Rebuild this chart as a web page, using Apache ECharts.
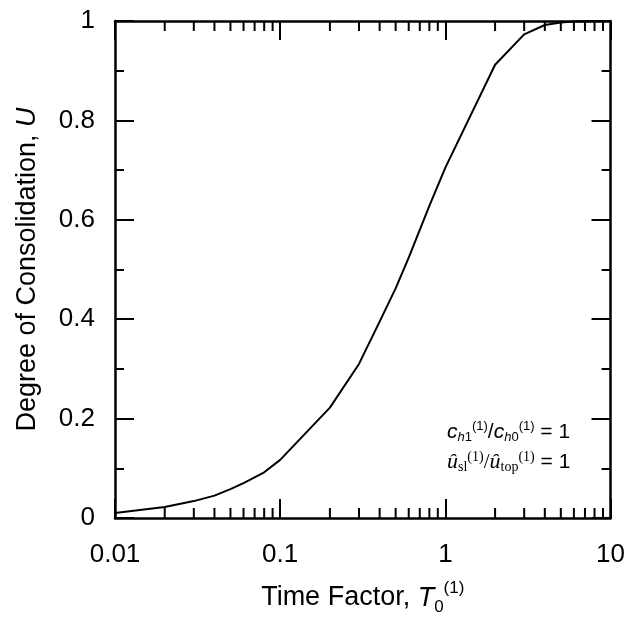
<!DOCTYPE html>
<html>
<head>
<meta charset="utf-8">
<script src="https://cdn.jsdelivr.net/npm/echarts@6/dist/echarts.min.js"></script>
<style>
html,body{margin:0;padding:0;background:#fff;}
#c{width:628px;height:623px;}
</style>
</head>
<body>
<div id="c"></div>
<script>
// Data
var timeFactor = [0.01, 0.02, 0.03, 0.04, 0.05, 0.06, 0.08, 0.1, 0.2, 0.3, 0.4, 0.5, 0.6, 0.8, 1, 2, 3, 4, 5, 6, 8, 10];
var consolidation = [0.010, 0.022, 0.034, 0.045, 0.058, 0.070, 0.092, 0.117, 0.222, 0.310, 0.395, 0.462, 0.524, 0.628, 0.705, 0.912, 0.973, 0.992, 0.997, 0.999, 1.0, 1.0];
var xTickLabels = ['0.01', '0.1', '1', '10'];
var yTickLabels = ['0', '0.2', '0.4', '0.6', '0.8', '1'];
var xMinorTicks = [];
[0.01, 0.1, 1].forEach(function (d) { for (var k = 2; k <= 9; k++) xMinorTicks.push(+(k * d).toPrecision(3)); });

var FONT = '"Liberation Sans", Arial, sans-serif';
var SERIF = '"Liberation Serif", "Times New Roman", serif';
var FS = 26;
var FT = 27;

var chart = echarts.init(document.getElementById('c'), null, {renderer: 'canvas'});

function xLabel(v) {
  var i = Math.round(Math.log10(v)) + 2;
  return xTickLabels[i] !== undefined ? xTickLabels[i] : '';
}
function yLabel(v) {
  var i = Math.round(v / 0.2);
  return yTickLabels[i] !== undefined ? yTickLabels[i] : '';
}

var axisLine = {show: true, onZero: false, lineStyle: {color: '#000', width: 2.5}};
var majorTick = {show: true, inside: true, length: 19, lineStyle: {color: '#000', width: 2}};

var option = {
  animation: false,
  backgroundColor: '#fff',
  grid: {left: 115, right: 16, top: 21, bottom: 105, containLabel: false},
  xAxis: [{
    type: 'log', logBase: 10, min: 0.01, max: 10, position: 'bottom',
    axisLine: axisLine, axisTick: majorTick, splitLine: {show: false},
    axisLabel: {show: true, margin: 24, fontSize: FS, color: '#000', fontFamily: FONT, formatter: xLabel},
    name: '{n|Time Factor, }{i|T}{sub|0}{sup|(1)}',
    nameLocation: 'middle', nameGap: 62,
    nameTextStyle: {
      fontFamily: FONT, fontSize: FT, color: '#000',
      rich: {
        n: {fontFamily: FONT, fontSize: FT, color: '#000', lineHeight: 36, verticalAlign: 'middle'},
        i: {fontFamily: FONT, fontSize: FT, fontStyle: 'italic', color: '#000', lineHeight: 36, verticalAlign: 'middle'},
        sub: {fontFamily: FONT, fontSize: 17, color: '#000', lineHeight: 15, verticalAlign: 'bottom'},
        sup: {fontFamily: FONT, fontSize: 17, color: '#000', lineHeight: 18, verticalAlign: 'top'}
      }
    }
  }, {
    type: 'log', logBase: 10, min: 0.01, max: 10, position: 'top',
    axisLine: axisLine, axisTick: majorTick, splitLine: {show: false},
    axisLabel: {show: false}
  }],
  yAxis: [{
    type: 'value', min: 0, max: 1, interval: 0.2, position: 'left',
    axisLine: axisLine, axisTick: majorTick, splitLine: {show: false},
    minorTick: {show: true, splitNumber: 2, length: 9, lineStyle: {color: '#000', width: 2}},
    axisLabel: {show: true, margin: 20, fontSize: FS, color: '#000', fontFamily: FONT, formatter: yLabel},
    name: '{n|Degree of Consolidation, }{i|U}',
    nameLocation: 'middle', nameGap: 74, nameRotate: 90,
    nameTextStyle: {
      fontFamily: FONT, fontSize: FT, color: '#000',
      rich: {
        n: {fontFamily: FONT, fontSize: FT, color: '#000'},
        i: {fontFamily: FONT, fontSize: FT, fontStyle: 'italic', color: '#000'}
      }
    }
  }, {
    type: 'value', min: 0, max: 1, interval: 0.2, position: 'right',
    axisLine: axisLine, axisTick: majorTick, splitLine: {show: false},
    minorTick: {show: true, splitNumber: 2, length: 9, lineStyle: {color: '#000', width: 2}},
    axisLabel: {show: false}
  }],
  series: [{
    type: 'line',
    xAxisIndex: 0, yAxisIndex: 0,
    data: timeFactor.map(function (t, i) { return [t, consolidation[i]]; }),
    showSymbol: false, symbol: 'none', smooth: false,
    lineStyle: {color: '#000', width: 2},
    silent: true
  }, {
    type: 'custom',
    xAxisIndex: 0, yAxisIndex: 0,
    data: xMinorTicks.map(function (v) { return [v]; }),
    clip: false, silent: true,
    renderItem: function (params, api) {
      var v = api.value(0);
      var pb = api.coord([v, 0]);
      var pt = api.coord([v, 1]);
      var st = {stroke: '#000', lineWidth: 2};
      return {
        type: 'group',
        children: [
          {type: 'line', shape: {x1: pb[0], y1: pb[1], x2: pb[0], y2: pb[1] - 10}, style: st},
          {type: 'line', shape: {x1: pt[0], y1: pt[1], x2: pt[0], y2: pt[1] + 10}, style: st}
        ]
      };
    }
  }],
  graphic: [{
    type: 'text', left: 447, top: 420,
    style: {
      text: '{i|c}{subi|h}{sub|1}{sup|(1)}{n|/}{i|c}{subi|h}{sub|0}{sup|(1)}{n| = 1}',
      rich: {
        n: {fontFamily: FONT, fontSize: 21, fill: '#000', lineHeight: 24, verticalAlign: 'middle'},
        i: {fontFamily: FONT, fontSize: 21, fontStyle: 'italic', fill: '#000', lineHeight: 24, verticalAlign: 'middle'},
        subi: {fontFamily: FONT, fontSize: 13, fontStyle: 'italic', fill: '#000', lineHeight: 11, verticalAlign: 'bottom'},
        sub: {fontFamily: FONT, fontSize: 13, fill: '#000', lineHeight: 11, verticalAlign: 'bottom'},
        sup: {fontFamily: FONT, fontSize: 13, fill: '#000', lineHeight: 13, verticalAlign: 'top'}
      }
    }
  }, {
    type: 'text', left: 447, top: 450,
    style: {
      text: '{i|û}{sub|sl}{sup|(1)}{s|/}{i|û}{sub|top}{sup|(1)}{n| = 1}',
      rich: {
        n: {fontFamily: FONT, fontSize: 21, fill: '#000', lineHeight: 24, verticalAlign: 'middle'},
        s: {fontFamily: SERIF, fontSize: 21, fill: '#000', lineHeight: 24, verticalAlign: 'middle'},
        i: {fontFamily: SERIF, fontSize: 22, fontStyle: 'italic', fill: '#000', lineHeight: 24, verticalAlign: 'middle'},
        sub: {fontFamily: SERIF, fontSize: 14, fill: '#000', lineHeight: 11, verticalAlign: 'bottom'},
        sup: {fontFamily: SERIF, fontSize: 14, fill: '#000', lineHeight: 13, verticalAlign: 'top'}
      }
    }
  }]
};
chart.setOption(option);
</script>
</body>
</html>
